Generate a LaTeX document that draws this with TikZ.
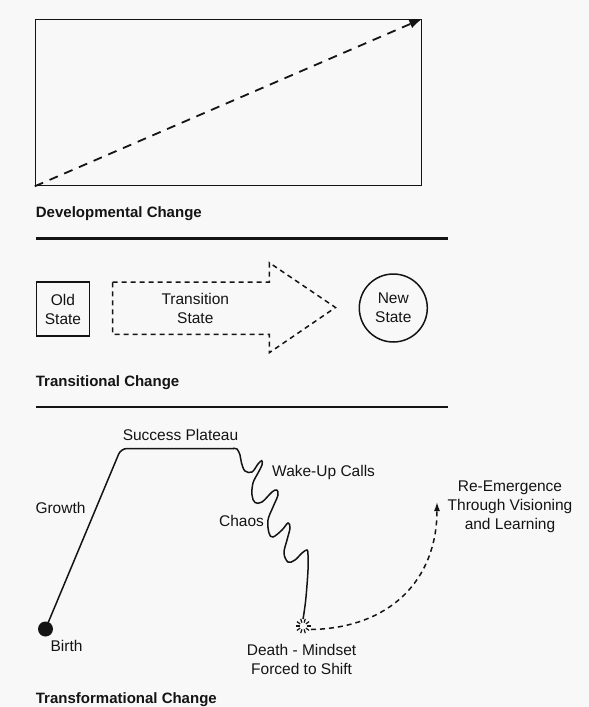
\documentclass[tikz,border=0pt]{standalone}
\usepackage{fontspec}
\setmainfont{Liberation Sans}
\usetikzlibrary{arrows.meta}
\definecolor{bg}{HTML}{F8F8F8}
\definecolor{ink}{HTML}{141414}
\begin{document}
\begin{tikzpicture}[x=1pt,y=-1pt,
  lbl/.style={font=\fontsize{15.5}{18}\selectfont, text=ink, inner sep=0pt, align=center},
  ttl/.style={font=\bfseries\fontsize{15}{17}\selectfont, text=ink, inner sep=0pt, anchor=west},
  rulel/.style={line width=2.2pt, draw=ink},
  boxl/.style={line width=1.5pt, draw=ink},
  curvel/.style={line width=1.5pt, draw=ink},
  dashl/.style={line width=1.8pt, draw=ink, dash pattern=on 9pt off 7pt},
  sdash/.style={line width=1.5pt, draw=ink, dash pattern=on 5pt off 4pt}]
\fill[bg] (0,0) rectangle (589,707);
\useasboundingbox (0,0) rectangle (589,707);

% ---------- Developmental change
\node[boxl, draw, minimum width=386pt, minimum height=166pt, inner sep=0pt] (devbox) at (228.6,102.5) {};
\draw[dashl, -{Latex[length=13pt,width=9pt]}] (devbox.south west) -- (devbox.north east);
\node[ttl] (devt) at (35.7,214) {Developmental Change};
\coordinate (r1a) at (35.7,238.5);
\coordinate (r1b) at (448,238.5);
\draw[rulel] (r1a) -- (r1b);

% ---------- Transitional change
\node[boxl, draw, minimum width=53pt, minimum height=54pt, inner sep=0pt, lbl] (old) at (63,309) {Old\\[1pt]State};
\coordinate (ta) at (112.7,282);
\coordinate (tb) at (269.3,282);
\coordinate (tc) at (269.3,262.7);
\coordinate (tip) at (335.5,307.5);
\coordinate (td) at (269.3,352.7);
\coordinate (te) at (269.3,334.3);
\coordinate (tf) at (112.7,334.3);
\draw[sdash] (ta) -- (tb) -- (tc) -- (tip) -- (td) -- (te) -- (tf) -- cycle;
\node[lbl] (trans) at (195.3,308.5) {Transition\\[1pt]State};
\node[boxl, draw, circle, minimum size=68pt, inner sep=0pt, lbl] (new) at (393.3,308) {New\\[1pt]State};
\node[ttl] (trant) at (35.7,383) {Transitional Change};
\coordinate (r2a) at (35.7,407);
\coordinate (r2b) at (448,407);
\draw[rulel] (r2a) -- (r2b);

% ---------- Transformational change
\node[circle, fill=ink, minimum size=15pt, inner sep=0pt] (birth) at (45.5,629) {};
\coordinate (corner) at (121,448.5);
\coordinate (platend) at (234,448.5);
\draw[curvel, rounded corners=6pt] (birth.center) -- (corner) -- (platend);
\draw[curvel] plot[smooth, tension=0.6] coordinates {
 (233,448.5) (237,449) (240,455) (241.5,463) (245,471) (252,472) (258,464) (261.7,460.7) (262,465)
 (258,473) (253,483) (252,495) (255,502.5) (262,502) (272,492) (276.7,490) (278,495)
 (273,507) (268,520) (269,533) (273,537) (282,530) (288,523) (290,528)
 (287,540) (284,553) (288,562) (295,560) (302,553) (307,550) (308,555)
 (308,570) (306,597) (304,613) (303,619)};
\coordinate (death) at (303,626);
\foreach \a in {0,36,...,324}
  \draw[line width=1.2pt, draw=ink, shift={(death)}] (\a:3.5) -- (\a:7.5);
\coordinate (dstart) at (311,629.5);
\coordinate (reem) at (437,502);
\draw[sdash, -{Latex[length=9pt,width=6pt]}] (dstart) .. controls (390,628) and (437,580) .. (reem);

\node[lbl] (succ) at (180.5,435) {Success Plateau};
\node[lbl, anchor=west] (wake) at (272,472) {Wake-Up Calls};
\node[lbl] (chaos) at (241.5,521) {Chaos};
\node[lbl] (growth) at (60.5,508) {Growth};
\node[lbl] (birtht) at (66.5,646) {Birth};
\node[lbl] (deatht) at (301.6,659.5) {Death - Mindset\\[1pt]Forced to Shift};
\node[lbl] (reemt) at (510,507) {Re-Emergence\\[1pt]Through Visioning\\[1pt]and Learning};
\node[ttl] (transft) at (35.7,700) {Transformational Change};
\end{tikzpicture}
\end{document}
